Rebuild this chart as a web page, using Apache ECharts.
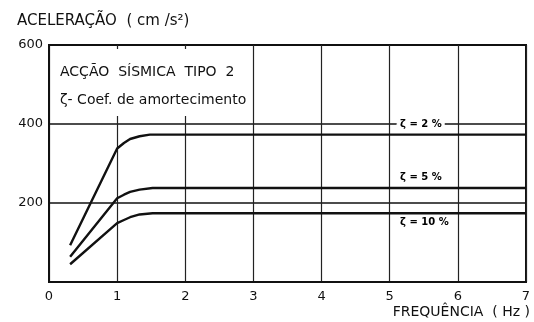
<!DOCTYPE html>
<html>
<head>
<meta charset="utf-8">
<script src="https://cdn.jsdelivr.net/npm/echarts@6/dist/echarts.min.js"></script>
<style>
  html, body { margin: 0; padding: 0; background: #fff; }
  #chart { width: 534px; height: 322px; }
</style>
</head>
<body>
<div id="chart"></div>
<script>
// Response spectrum, seismic action type 2: acceleration vs frequency
const xTicks = [0, 1, 2, 3, 4, 5, 6, 7];
const yTicks = [200, 400, 600];

// Curves for each damping coefficient: [frequency (Hz), acceleration (cm/s²)]
const damping2 = [[0.31, 93], [1.0, 338], [1.1, 352], [1.19, 362], [1.33, 369], [1.48, 373], [7, 373]];
const damping5 = [[0.31, 64], [1.0, 212], [1.1, 221], [1.19, 228], [1.33, 234], [1.52, 238], [7, 238]];
const damping10 = [[0.31, 45], [1.0, 149], [1.1, 157], [1.19, 164], [1.33, 171], [1.52, 174], [7, 174]];

const curveNames = ['ζ = 2 %', 'ζ = 5 %', 'ζ = 10 %'];
const curveLabelX = [5.1, 5.1, 5.1];
const curveLabelY = [400, 264, 150];

const FONT = 'DejaVu Sans';
const chart = echarts.init(document.getElementById('chart'), null, { renderer: 'canvas' });

function lineSeries(name, data) {
  return {
    name: name,
    type: 'line',
    data: data,
    symbol: 'none',
    smooth: false,
    lineStyle: { color: '#111', width: 2.4 },
    z: 3
  };
}

chart.setOption({
  animation: false,
  backgroundColor: '#fff',
  grid: {
    left: 49, right: 8, top: 45, bottom: 40,
    show: true, borderColor: '#111', borderWidth: 2, backgroundColor: 'transparent'
  },
  xAxis: {
    type: 'value', min: xTicks[0], max: xTicks[xTicks.length - 1], interval: 1,
    axisLine: { show: true, lineStyle: { color: '#111', width: 2 } },
    axisTick: { show: false },
    axisLabel: { color: '#111', fontFamily: FONT, fontSize: 13, margin: 8 },
    splitLine: { show: true, lineStyle: { color: '#222', width: 1.2 } }
  },
  yAxis: {
    type: 'value', min: 0, max: yTicks[yTicks.length - 1], interval: 200,
    axisLine: { show: true, lineStyle: { color: '#111', width: 2 } },
    axisTick: { show: false },
    axisLabel: {
      color: '#111', fontFamily: FONT, fontSize: 13, margin: 6,
      formatter: v => (yTicks.indexOf(v) >= 0 ? String(v) : '')
    },
    splitLine: { show: true, lineStyle: { color: '#111', width: 1.5 } }
  },
  series: [
    Object.assign(lineSeries(curveNames[0], damping2), {
      // blank panel behind the chart caption
      markArea: {
        silent: true,
        itemStyle: { color: '#fff', opacity: 1 },
        data: [[{ coord: [0.03, 590] }, { coord: [2.96, 420] }]]
      }
    }),
    lineSeries(curveNames[1], damping5),
    lineSeries(curveNames[2], damping10),
    {
      type: 'scatter',
      symbol: 'circle',
      symbolSize: 1,
      itemStyle: { color: '#fff', opacity: 1 },
      z: 5,
      data: curveNames.map((n, i) => ({ value: [curveLabelX[i], curveLabelY[i]], name: n })),
      label: {
        show: true,
        position: 'right',
        distance: 0,
        formatter: p => p.name,
        color: '#000',
        fontFamily: FONT,
        fontSize: 10,
        fontWeight: 'bold',
        backgroundColor: '#fff',
        padding: [1, 3, 1, 3]
      }
    }
  ],
  graphic: [
    { type: 'text', z: 100, left: 17, top: 14, style: { text: 'ACELERAÇÃO  ( cm /s²)', fill: '#111', font: '15px "DejaVu Sans"' } },
    { type: 'text', z: 100, left: 60, top: 65, style: { text: 'ACÇÃO  SÍSMICA  TIPO  2', fill: '#111', font: '14px "DejaVu Sans"' } },
    { type: 'text', z: 100, left: 60, top: 93, style: { text: 'ζ- Coef. de amortecimento', fill: '#111', font: '14px "DejaVu Sans"' } },
    { type: 'text', z: 100, right: 4, top: 305, style: { text: 'FREQUÊNCIA  ( Hz )', fill: '#111', font: '14px "DejaVu Sans"' } }
  ]
});
</script>
</body>
</html>
